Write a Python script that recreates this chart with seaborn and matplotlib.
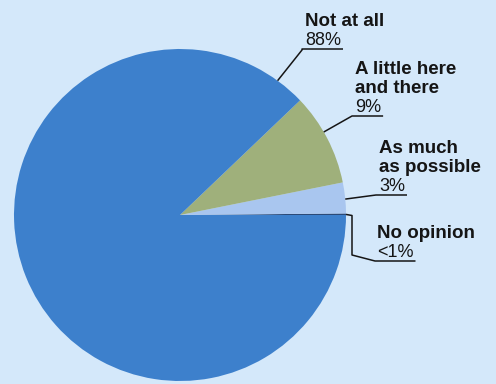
import numpy as np
import matplotlib.pyplot as plt
import seaborn as sns

# survey answers, listed counter-clockwise from 3 o'clock
categories = ["No opinion", "As much\nas possible", "A little here\nand there", "Not at all"]
values = [0.15, 3, 9, 88]
pct_labels = ["<1%", "3%", "9%", "88%"]
colors = ["#2b4a78", "#a9c6ef", "#9fb07b", "#3d80cc"]

W, H = 496, 384
BG = "#d4e8fa"

sns.set_style("white")
plt.rcParams["font.family"] = ["Liberation Sans", "DejaVu Sans"]

fig = plt.figure(figsize=(W / 100, H / 100), dpi=100, facecolor=BG)
ax = fig.add_axes([0, 0, 1, 1])
ax.set_facecolor(BG)

cx, cy, r = 180, 215, 166


def py(y):
    # picture rows -> axes units (y up)
    return H - y


ax.pie(values, colors=colors, startangle=0, counterclock=True,
       center=(cx, py(cy)), radius=r, wedgeprops=dict(linewidth=0))
ax.set_xlim(0, W)
ax.set_ylim(0, H)
ax.set_aspect("equal")
ax.axis("off")

# label layout: text x, first baseline, leader angle on the rim, leader path
layout = {
    "Not at all": dict(x=305, base=26, ang=54, path=[(302, 50)]),
    "A little here\nand there": dict(x=355, base=74, ang=30, path=[(352, 116)]),
    "As much\nas possible": dict(x=379, base=153, ang=5.5, path=[(376, 195)]),
    "No opinion": dict(x=377, base=238, ang=0.2,
                       path=[(352, 215.5), (352, 255), (375, 261)]),
}
step = 19
ink = "#151515"

fig.canvas.draw()
renderer = fig.canvas.get_renderer()
for cat, pct in zip(categories, pct_labels):
    lay = layout[cat]
    lines = cat.split("\n")
    for i, line in enumerate(lines):
        ax.text(lay["x"], py(lay["base"] + i * step), line, fontsize=13.5,
                fontweight="bold", color=ink, va="baseline", ha="left")
    pbase = lay["base"] + len(lines) * step
    t = ax.text(lay["x"], py(pbase), pct, fontsize=13, color=ink,
                va="baseline", ha="left")
    bb = t.get_window_extent(renderer)
    x_end = bb.x1 + 2
    a = np.deg2rad(lay["ang"])
    start = (cx + r * np.cos(a), cy - r * np.sin(a))
    pts = [start] + lay["path"]
    uy = pbase + 4
    pts = pts + [(pts[-1][0], uy) if abs(pts[-1][1] - uy) < 2 else pts[-1]]
    xs = [p[0] for p in pts] + [x_end]
    ys = [py(p[1]) for p in pts] + [py(uy)]
    ax.plot(xs, ys, color=ink, lw=1.1, solid_capstyle="butt")

fig.savefig("out.png", dpi=100, facecolor=BG)
